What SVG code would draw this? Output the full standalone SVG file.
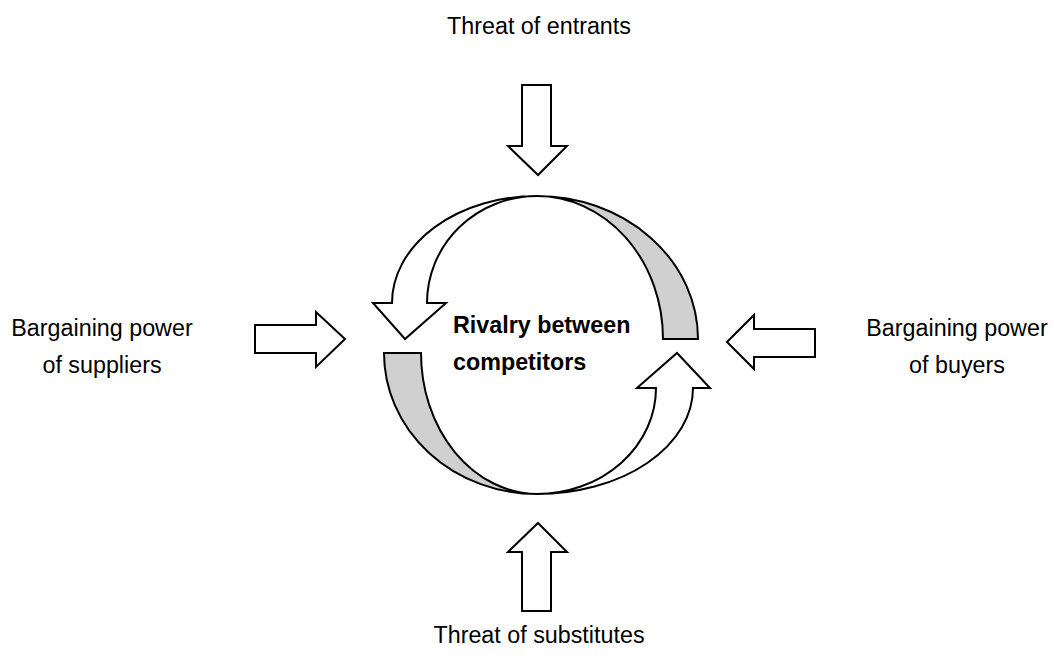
<svg xmlns="http://www.w3.org/2000/svg" width="1054" height="669" viewBox="0 0 1054 669">
<style>
.lbl{font-family:"Liberation Sans",Arial,sans-serif;font-size:23.3px;fill:#000}
.bold{font-weight:bold}
.shape{fill:#fff;stroke:#000;stroke-width:2;stroke-linejoin:miter}
.grey{fill:#d0d0d0;stroke:#000;stroke-width:2}
</style>
<rect width="1054" height="669" fill="#fff"/>
<g id="force-arrows">
<polygon id="arrow-top" class="shape" points="522,85 551,85 551,146 567,146 538,175 508,146 522,146"/>
<polygon id="arrow-bottom" class="shape" points="538,523 567,552 551,552 551,611 522,611 522,552 508,552"/>
<polygon id="arrow-left" class="shape" points="255,325 316,325 316,312 345,339 316,367 316,353 255,353"/>
<polygon id="arrow-right" class="shape" points="727,342 754,315 754,329 815,329 815,357 754,357 754,369"/>
</g>
<g id="rivalry">
<path id="cycle-upper-left" class="shape" d="M537,196 A145,107 0 0 0 392,303 L373,303 L405,339 L446,303 L427,303 A110,107 0 0 1 537,196 Z"/>
<path id="cycle-upper-right" class="grey" d="M537,196 A161,143 0 0 1 698,339 L663,339 A126,143 0 0 0 537,196 Z"/>
<path id="cycle-lower-left" class="grey" d="M384,353 A153,141 0 0 0 537,494 A117,141 0 0 1 421,353 Z"/>
<path id="cycle-lower-right" class="shape" d="M537,494 A156,106 0 0 0 693,388 L710,388 L677,353 L637,388 L656,388 A119,106 0 0 1 537,494 Z"/>
<text class="lbl bold" x="453" y="333">Rivalry between</text>
<text class="lbl bold" x="453" y="370">competitors</text>
</g>
<g id="node-entrants"><text class="lbl" x="539" y="34" text-anchor="middle">Threat of entrants</text></g>
<g id="node-substitutes"><text class="lbl" x="539" y="643" text-anchor="middle">Threat of substitutes</text></g>
<g id="node-suppliers">
<text class="lbl" x="102" y="336" text-anchor="middle">Bargaining power</text>
<text class="lbl" x="102" y="373" text-anchor="middle">of suppliers</text>
</g>
<g id="node-buyers">
<text class="lbl" x="957" y="336" text-anchor="middle">Bargaining power</text>
<text class="lbl" x="957" y="373" text-anchor="middle">of buyers</text>
</g>
</svg>
